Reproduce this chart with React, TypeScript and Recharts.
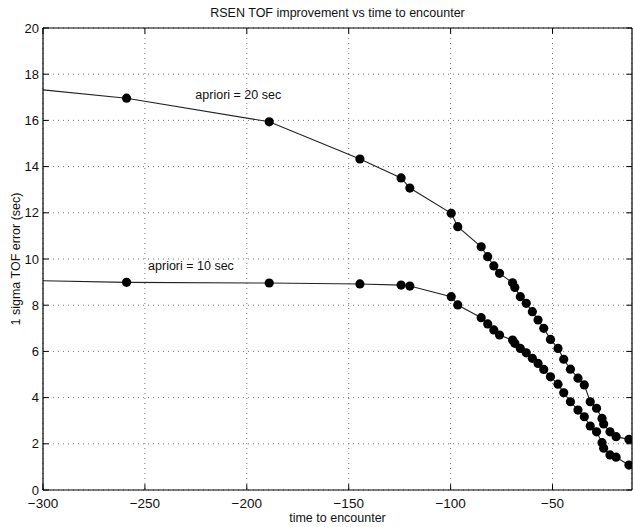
import React from 'react';
import { LineChart, Line, XAxis, YAxis, CartesianGrid, ReferenceLine, ReferenceDot } from 'recharts';

// shared sample times (sec before encounter) where markers are drawn
const times = [
  -259, -189, -144.5, -124.3, -120, -99.7, -96.5, -85, -81.8, -78.8, -76,
  -69.6, -68.5, -65.8, -62.9, -59.9, -57.1, -54.3, -51, -47.3, -44.5,
  -41.2, -37.5, -34.4, -31.5, -28.4, -25.7, -24.9, -21.8, -18.8, -12.5,
];

// apriori = 20 sec
const upperErr = [
  16.96, 15.94, 14.33, 13.51, 13.07, 11.98, 11.4, 10.53, 10.1, 9.7, 9.38,
  8.97, 8.77, 8.37, 8.08, 7.72, 7.36, 7.0, 6.52, 6.13, 5.66,
  5.23, 4.84, 4.55, 3.82, 3.54, 3.1, 2.86, 2.52, 2.31, 2.19,
];

// apriori = 10 sec
const lowerErr = [
  8.99, 8.96, 8.92, 8.87, 8.83, 8.37, 8.01, 7.46, 7.19, 6.93, 6.71,
  6.49, 6.35, 6.13, 5.94, 5.7, 5.48, 5.22, 4.9, 4.58, 4.21,
  3.82, 3.46, 3.17, 2.77, 2.52, 2.05, 1.81, 1.52, 1.42, 1.08,
];

// line continues to the left edge without a marker
const lineStartTime = -300;
const upperStart = 17.32;
const lowerStart = 9.06;

const xTicks = [-300, -250, -200, -150, -100, -50];
const yTicks = [0, 2, 4, 6, 8, 10, 12, 14, 16, 18, 20];
const xMin = -300;
const xMax = -11;

const FONT = '"Liberation Sans", Arial, Helvetica, sans-serif';

const upperData = [{ t: lineStartTime, v: upperStart }, ...times.map((t, i) => ({ t, v: upperErr[i] }))];
const lowerData = [{ t: lineStartTime, v: lowerStart }, ...times.map((t, i) => ({ t, v: lowerErr[i] }))];

const renderDot = (props: any) => {
  const { cx, cy, index } = props;
  if (index === 0) return <g key={`d-${index}`} />;
  return <circle key={`d-${index}`} cx={cx} cy={cy} r={4.6} fill="#000" />;
};

const fmt = (v: number) => (v < 0 ? `\u2212${Math.abs(v)}` : `${v}`);

const App: React.FC = () => {
  return (
    <div style={{ position: 'absolute', left: 0, top: 0, width: 633, height: 527, background: '#fff', fontFamily: FONT }}>
      <div style={{ position: 'absolute', top: 6, left: 43, width: 589, textAlign: 'center', fontSize: 12.5, lineHeight: '14px', color: '#111' }}>
        RSEN TOF improvement vs time to encounter
      </div>
      <div style={{ position: 'absolute', left: 16, top: 259, transform: 'translate(-50%, -50%) rotate(-90deg)', whiteSpace: 'nowrap', fontSize: 12.5, lineHeight: '12px', color: '#111' }}>
        1 sigma TOF error (sec)
      </div>
      <div style={{ position: 'absolute', top: 511, left: 43, width: 589, textAlign: 'center', fontSize: 12.5, lineHeight: '14px', color: '#111' }}>
        time to encounter
      </div>
      <LineChart width={633} height={527} margin={{ top: 28, right: 1, bottom: 0, left: 0 }}>
        <CartesianGrid stroke="#777" strokeDasharray="1 4" vertical horizontal />
        <XAxis
          type="number"
          dataKey="t"
          domain={[xMin, xMax]}
          ticks={xTicks}
          tickFormatter={fmt}
          allowDataOverflow
          height={37}
          tickSize={0}
          tickMargin={8}
          tickLine={false}
          axisLine={{ stroke: '#000', strokeWidth: 1.2 }}
          tick={{ fill: '#111', fontSize: 13.5, fontFamily: FONT }}
        />
        <YAxis
          type="number"
          domain={[0, 20]}
          ticks={yTicks}
          width={43}
          tickSize={0}
          tickMargin={4}
          tickLine={false}
          axisLine={{ stroke: '#000', strokeWidth: 1.2 }}
          tick={{ fill: '#111', fontSize: 13, fontFamily: FONT }}
        />
        {/* box frame */}
        <ReferenceLine y={20} stroke="#000" strokeWidth={1.2} />
        <ReferenceLine x={xMax} stroke="#000" strokeWidth={1.2} />
        {/* inward ticks */}
        {xTicks.map((t) => (
          <ReferenceLine key={`bt${t}`} segment={[{ x: t, y: 0 }, { x: t, y: 0.25 }]} stroke="#000" />
        ))}
        {xTicks.map((t) => (
          <ReferenceLine key={`tt${t}`} segment={[{ x: t, y: 20 }, { x: t, y: 19.75 }]} stroke="#000" />
        ))}
        {yTicks.map((v) => (
          <ReferenceLine key={`lt${v}`} segment={[{ x: xMin, y: v }, { x: xMin + 2.8, y: v }]} stroke="#000" />
        ))}
        {yTicks.map((v) => (
          <ReferenceLine key={`rt${v}`} segment={[{ x: xMax, y: v }, { x: xMax - 2.8, y: v }]} stroke="#000" />
        ))}
        <Line
          data={upperData}
          dataKey="v"
          type="linear"
          stroke="#222"
          strokeWidth={1.1}
          dot={renderDot}
          activeDot={false}
          isAnimationActive={false}
        />
        <Line
          data={lowerData}
          dataKey="v"
          type="linear"
          stroke="#222"
          strokeWidth={1.1}
          dot={renderDot}
          activeDot={false}
          isAnimationActive={false}
        />
        <ReferenceDot
          x={-227.7}
          y={17.1}
          r={0}
          stroke="none"
          label={{ value: 'apriori = 20 sec', position: 'right', fill: '#111', fontSize: 12.5, fontFamily: FONT }}
        />
        <ReferenceDot
          x={-250.9}
          y={9.71}
          r={0}
          stroke="none"
          label={{ value: 'apriori = 10 sec', position: 'right', fill: '#111', fontSize: 12.5, fontFamily: FONT }}
        />
      </LineChart>
    </div>
  );
};

export default App;
